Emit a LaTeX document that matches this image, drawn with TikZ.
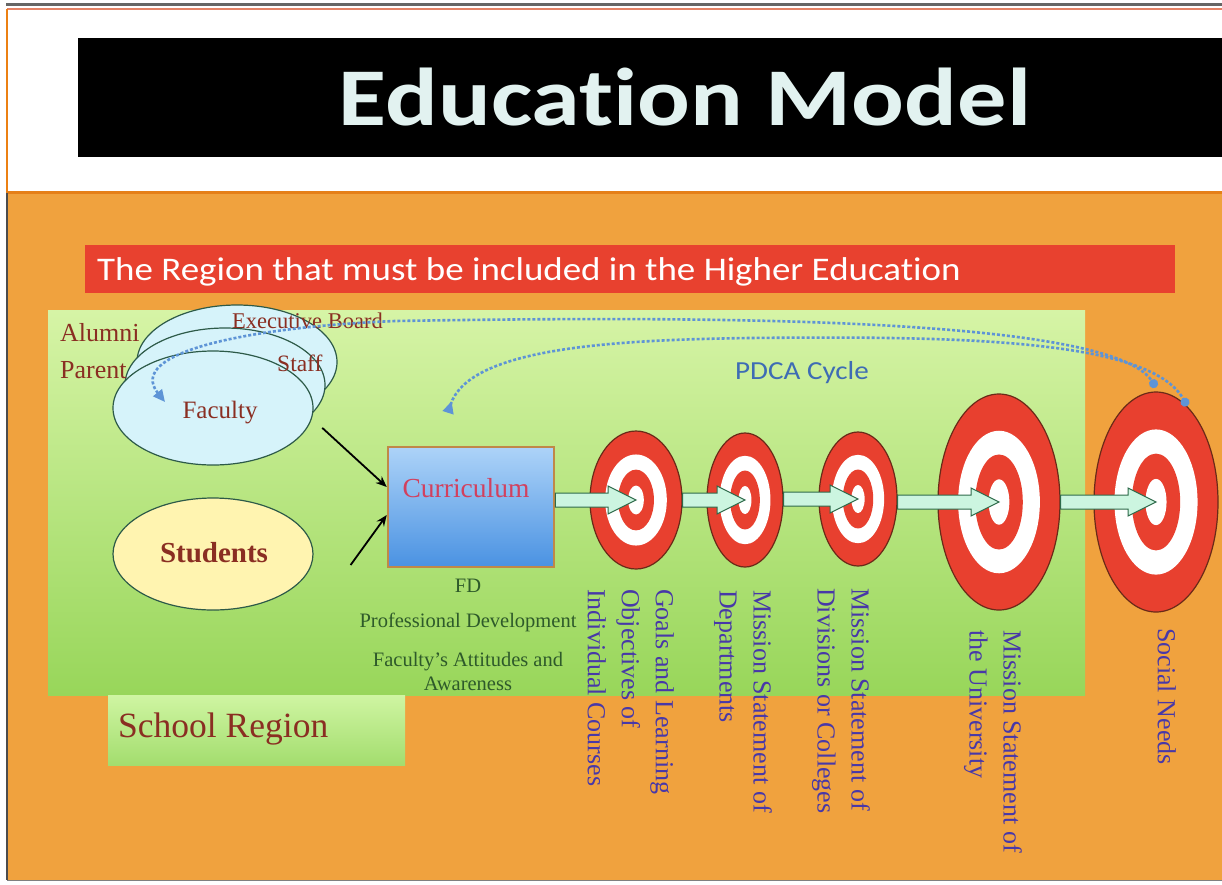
\documentclass[tikz,border=0pt]{standalone}
\usepackage{fontspec}
\setmainfont{Liberation Serif}
\newfontfamily\calib[RawFeature=-liga, FakeStretch=1.12]{Carlito}
\newfontfamily\calibwide[RawFeature=-liga, FakeStretch=1.2]{Carlito}
\usetikzlibrary{shapes.geometric,calc,arrows.meta}

\definecolor{slideorange}{HTML}{F0A23E}
\definecolor{greenTop}{HTML}{D6F4A6}
\definecolor{greenBot}{HTML}{98D65A}
\definecolor{schoolTop}{HTML}{CFF5A2}
\definecolor{schoolBot}{HTML}{A3DD6E}
\definecolor{barred}{HTML}{E8412F}
\definecolor{titletext}{HTML}{E2F2F0}
\definecolor{brownred}{HTML}{8A2E22}
\definecolor{ellfill}{HTML}{D6F3FA}
\definecolor{ellline}{HTML}{2D5A48}
\definecolor{studfill}{HTML}{FFF4B0}
\definecolor{boxtop}{HTML}{ADD3F8}
\definecolor{boxbot}{HTML}{4A92E2}
\definecolor{boxline}{HTML}{C08848}
\definecolor{curtext}{HTML}{D2405E}
\definecolor{fdtext}{HTML}{2E5A2A}
\definecolor{targetred}{HTML}{E8402F}
\definecolor{targetline}{HTML}{6A2A18}
\definecolor{mint}{HTML}{CCF5E0}
\definecolor{mintline}{HTML}{2E6A4A}
\definecolor{labelblue}{HTML}{4838A8}
\definecolor{pdcablue}{HTML}{3E6CB4}
\definecolor{dashblue}{HTML}{5E94D6}

\tikzset{
  stackell/.style={ellipse, draw=ellline, fill=ellfill, line width=1.2pt,
    minimum width=200pt, minimum height=114pt, inner sep=0pt},
  lbl/.style={text=brownred, font=\fontsize{26}{30}\selectfont, inner sep=0pt},
  conn/.style={line width=1.8pt, black, -{Stealth[length=11pt,width=9pt]}},
  flowarrow/.style={draw=mintline, fill=mint, line width=1pt, line join=miter},
  vlabel/.style={text=labelblue, rotate=-90, align=left, inner sep=0pt,
    font=\fontsize{26}{34}\selectfont},
  fdlabel/.style={text=fdtext, inner sep=0pt, font=\fontsize{20.5}{24}\selectfont},
  pdca/.style={dashblue, line width=2.6pt, dash pattern=on 3pt off 2pt},
}

% concentric target: name, x, y, x radius, y radius
\newcommand\bullseye[5]{%
  \node[ellipse, draw=targetline, line width=1.2pt, fill=targetred, inner sep=0pt,
        minimum width={2*#4}, minimum height={2*#5}] (#1) at (#2,#3) {};
  \fill[white] (#2,#3) ellipse [x radius={0.67*#4}, y radius={0.66*#5}];
  \fill[targetred] (#2,#3) ellipse [x radius={0.39*#4}, y radius={0.44*#5}];
  \fill[white] (#2,#3) ellipse [x radius={0.17*#4}, y radius={0.21*#5}];
}

% block arrow from the east side of one node to the centre of the next
\newcommand\flowarrow[2]{%
  \draw[flowarrow] let \p1=(#1), \p2=(#2) in
    (\x1,\y2+7pt) -- (\x2-28pt,\y2+7pt) -- (\x2-28pt,\y2+14pt) -- (\x2,\y2)
    -- (\x2-28pt,\y2-14pt) -- (\x2-28pt,\y2-7pt) -- (\x1,\y2-7pt) -- cycle;
}

\begin{document}
\begin{tikzpicture}[x=1pt, y=-1pt]
\useasboundingbox (0,0) rectangle (1222,884);
\fill[white] (0,0) rectangle (1222,884);

% slide frame
\fill[slideorange] (7,193) rectangle (1222,880);
\draw[gray!80!black, line width=3pt] (6,4) -- (1222,4);
\draw[red!40!brown!70, line width=1.2pt] (7,9) -- (1222,9);
\draw[orange!70!brown, line width=1.5pt] (7,9) -- (7,193);
\draw[orange!60!brown, line width=3pt] (7,192) -- (1222,192);
\draw[black!70, line width=1.2pt] (7,193) -- (7,880);
\draw[gray, line width=1pt] (7,880) -- (1222,880);

% title bar
\node[fill=black, minimum width=1144pt, minimum height=119pt, anchor=north west,
      inner sep=0pt] (titlebar) at (78,38) {};
\node[text=titletext, anchor=base, inner sep=0pt,
      font=\calibwide\bfseries\fontsize{82}{90}\selectfont] (title) at (685,125) {Education Model};

% red banner
\node[fill=barred, minimum width=1090pt, minimum height=48pt, anchor=north west,
      inner sep=0pt] (banner) at (85,245) {};
\node[text=white, anchor=base west, inner sep=0pt,
      font=\calib\fontsize{33}{36}\selectfont] (bannertext) at (97,280)
      {The Region that must be included in the Higher Education};

% green region
\node[top color=greenTop, bottom color=greenBot, minimum width=1037pt,
      minimum height=385pt, anchor=north west, inner sep=0pt] (region) at (48,310) {};
\node[top color=schoolTop, bottom color=schoolBot, minimum width=297pt,
      minimum height=70pt, anchor=north west, inner sep=0pt] (schoolbox) at (108,695) {};
\node[text=brownred, anchor=base west, inner sep=0pt,
      font=\fontsize{35.5}{38}\selectfont] (school) at (118,737) {School Region};

% stacked ellipses
\node[stackell] (execell) at (237,362) {};
\node[stackell] (staffell) at (225,385) {};
\node[stackell] (faculty) at (213,408) {};
\node[lbl, anchor=base west] (alumni) at (60,341) {Alumni};
\node[lbl, anchor=base west] (parent) at (60,378) {Parent};
\node[lbl, anchor=base west, font=\fontsize{22.5}{26}\selectfont] (exec) at (232,328) {Executive Board};
\node[lbl, anchor=base west, font=\fontsize{23.5}{26}\selectfont] (staff) at (277,371) {Staff};
\node[lbl, anchor=base, font=\fontsize{25}{28}\selectfont] (faclbl) at (220,418) {Faculty};

% students
\node[ellipse, draw=ellline, fill=studfill, line width=1.2pt, minimum width=200pt,
      minimum height=112pt, inner sep=0pt] (students) at (213,554) {};
\node[lbl, anchor=base, font=\bfseries\fontsize{29}{32}\selectfont] (studlbl) at (214,562) {Students};

% curriculum
\node[top color=boxtop, bottom color=boxbot, draw=boxline, line width=2.5pt,
      minimum width=166pt, minimum height=120pt, inner sep=0pt] (cur) at (471,507) {};
\node[text=curtext, anchor=base, inner sep=0pt, font=\fontsize{27.5}{30}\selectfont]
      (curlbl) at (466,497) {Curriculum};
\node[fdlabel, anchor=base] (fd) at (468,592) {FD};
\node[fdlabel, anchor=base] (profdev) at (468,627) {Professional Development};
\node[fdlabel, anchor=base] (attitude) at (468,666) {Faculty's Attitudes and};
\node[fdlabel, anchor=base] (aware) at (468,690) {Awareness};

% connectors into the curriculum box
\draw[conn, shorten <=14pt] (faculty.-6) -- ([yshift=20pt]cur.west);
\draw[conn] ([shift={(37,11)}]students.east) -- ([yshift=-8pt]cur.west);

% targets
\bullseye{t1}{636}{500}{46}{69}
\bullseye{t2}{745}{500}{38}{67}
\bullseye{t3}{858}{499}{39}{67}
\bullseye{t4}{999}{502}{61}{108}
\bullseye{sn}{1156}{502}{62}{110}

% flow between the levels
\flowarrow{cur.east}{t1.center}
\flowarrow{t1.east}{t2.center}
\flowarrow{t2.east}{t3.center}
\flowarrow{t3.east}{t4.center}
\flowarrow{t4.east}{sn.center}

% vertical labels
\node[vlabel, anchor=north west] (lab1) at (674,589)
  {Goals and Learning\\Objectives of\\Individual Courses};
\node[vlabel, anchor=north west] (lab2) at (772,590)
  {Mission Statement of\\Departments};
\node[vlabel, anchor=north west] (lab3) at (870,588)
  {Mission Statement of\\Divisions or Colleges};
\node[vlabel, anchor=north west] (lab4) at (1022,630)
  {Mission Statement of\\the University};
\node[vlabel, anchor=north west] (lab5) at (1176,628) {Social Needs};

% PDCA feedback
\node[text=pdcablue, inner sep=0pt, font=\calib\fontsize{26}{28}\selectfont]
  (pdcalbl) at (802,373) {PDCA Cycle};
\coordinate (snA) at ([yshift=4pt]sn.north);
\coordinate (snB) at (sn.72);
\coordinate (facIn) at ([shift={(-48,-6)}]faculty.center);
\coordinate (curIn) at ([shift={(-23,-33)}]cur.north);
\draw[pdca, {Triangle[length=12pt,width=11pt]}-{Circle[length=9pt]}]
  (facIn) .. controls (125,352) and (250,327) .. (395,321)
  .. controls (700,316) and (1110,316) .. (snA);
\draw[pdca, {Triangle[reversed,length=12pt,width=11pt]}-{Circle[length=9pt]}]
  (curIn) .. controls (468,350) and (600,340) .. (750,338)
  .. controls (950,336) and (1150,338) .. (snB);
\end{tikzpicture}
\end{document}
